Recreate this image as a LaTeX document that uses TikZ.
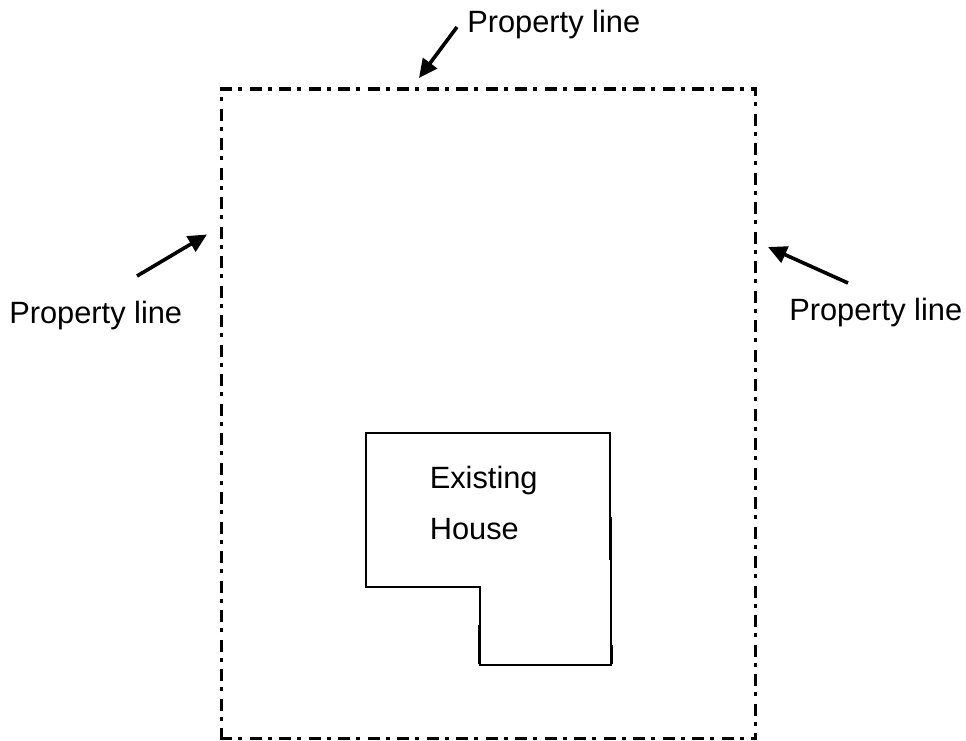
\documentclass[tikz,border=0pt]{standalone}
\usepackage{fontspec}
\setmainfont{Liberation Sans}
\usetikzlibrary{arrows.meta}
\tikzset{
  boundary/.style={line width=2.9pt,dash pattern=on 9.2pt off 4.5pt on 3pt off 5.425pt},
  wall/.style={line width=1.5pt,line cap=rect},
  pointer/.style={line width=2.7pt,-{Triangle[length=14pt,width=13pt]}},
  label/.style={inner sep=0pt,anchor=base west,font=\fontsize{23.1pt}{27pt}\selectfont}
}
\begin{document}
\begin{tikzpicture}[x=0.75pt,y=-0.75pt]
\useasboundingbox (0,0) rectangle (966,740);
\fill[white] (0,0) rectangle (966,740);
% property boundary
\coordinate (tl) at (220,89);
\coordinate (tr) at (757,89);
\coordinate (ltop) at (221.5,87);
\coordinate (lbot) at (221.5,739);
\coordinate (rtop) at (755.5,87);
\coordinate (rbot) at (755.5,739);
\coordinate (bl) at (220,738.5);
\coordinate (br) at (757,738.5);
\draw[boundary] (tl) -- (tr);
\draw[boundary] (bl) -- (br);
\draw[boundary,dash phase=6pt] (ltop) -- (lbot);
\draw[boundary,dash phase=2.25pt] (rtop) -- (rbot);
% house
\draw[wall] (366,433) -- (610,433) -- (610,518) -- (610.7,518) -- (610.7,664.5) -- (480,664.5)
  -- (480,587) -- (366,587) -- cycle;
\draw[line width=2pt] (479.3,625) -- (479.3,664);
\draw[line width=2.2pt] (610.8,518) -- (610.8,560);
\draw[line width=2.2pt] (611.2,645) -- (611.2,664);
% labels
\node[label] (ltopt) at (467,32) {Property line};
\node[label] (lleft) at (9,323.5) {Property line};
\node[label] (lright) at (789,320) {Property line};
\node[label] (lex) at (429.5,488) {Existing};
\node[label] (lho) at (429.5,539) {House};
% pointers
\coordinate (atop) at (419,78);
\coordinate (aleft) at (207,234.5);
\coordinate (aright) at (768,247);
\coordinate (stop) at (457,27);
\coordinate (sleft) at (137,276);
\coordinate (sright) at (848,283);
\draw[pointer] (stop) -- (atop);
\draw[pointer] (sleft) -- (aleft);
\draw[pointer] (sright) -- (aright);
\end{tikzpicture}
\end{document}
